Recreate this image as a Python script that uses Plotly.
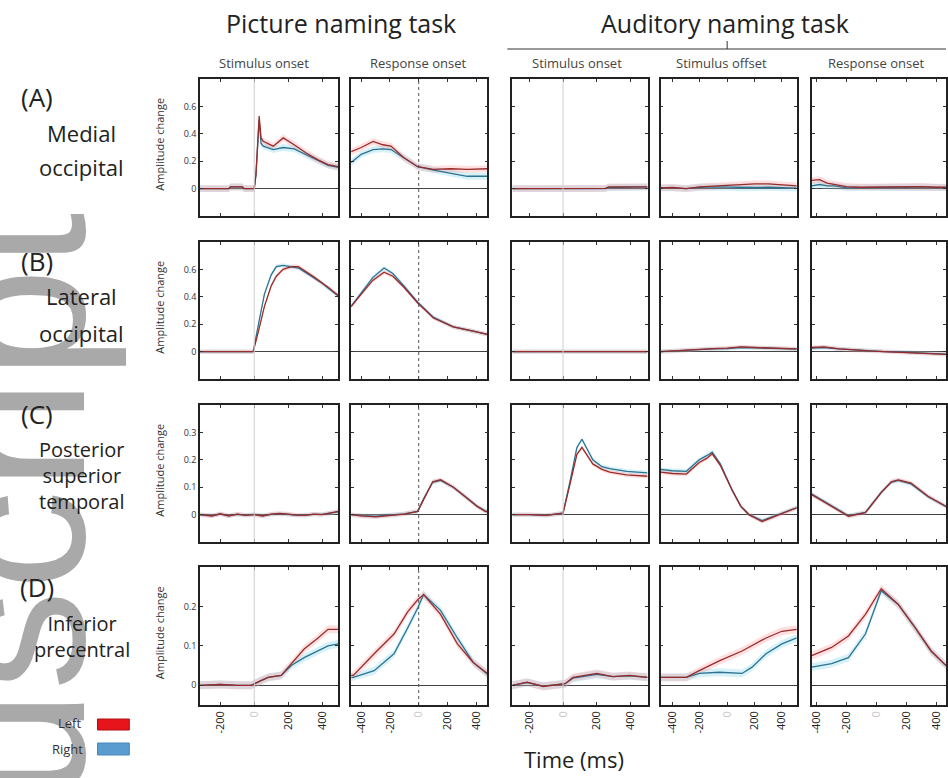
import plotly.graph_objects as go
from plotly.subplots import make_subplots

W, H = 948, 778
FONT = "Open Sans"

# ---------------- data (time in ms, amplitude change) ----------------
# Row A: Medial occipital
t_A1 = [-320, -150, -140, -70, -60, 0, 10, 20, 29, 40, 53, 112, 171, 235, 306, 376, 435, 495]
left_A1 = [0, 0, 0.012, 0.012, 0, 0, 0.1, 0.38, 0.53, 0.37, 0.345, 0.31, 0.37, 0.32, 0.26, 0.21, 0.175, 0.16]
right_A1 = [0, 0, 0.012, 0.012, 0, 0, 0.1, 0.36, 0.50, 0.33, 0.31, 0.285, 0.30, 0.29, 0.25, 0.205, 0.17, 0.155]

t_A2 = [-470, -400, -317, -250, -193, -103, -7, 103, 220, 338, 478]
left_A2 = [0.27, 0.30, 0.345, 0.32, 0.31, 0.225, 0.16, 0.14, 0.145, 0.14, 0.145]
right_A2 = [0.19, 0.25, 0.285, 0.29, 0.285, 0.225, 0.16, 0.135, 0.115, 0.09, 0.09]

t_A3 = [-300, -100, 0, 150, 250, 270, 300, 320, 400, 500]
left_A3 = [0, 0, 0, 0, 0.002, 0.012, 0.012, 0.015, 0.015, 0.013]
right_A3 = [0, 0, 0, 0, 0, 0.008, 0.008, 0.01, 0.012, 0.012]

t_A4 = [-487, -400, -300, -200, -100, 0, 100, 200, 300, 400, 509]
left_A4 = [0.005, 0.008, 0.0, 0.012, 0.018, 0.025, 0.03, 0.035, 0.035, 0.03, 0.02]
right_A4 = [0.005, 0.006, 0.0, 0.01, 0.012, 0.01, 0.005, 0.008, 0.01, 0.008, 0.003]

t_A5 = [-433, -380, -330, -280, -200, -100, 0, 100, 200, 300, 400, 467]
left_A5 = [0.06, 0.065, 0.04, 0.03, 0.015, 0.01, 0.012, 0.015, 0.012, 0.015, 0.01, 0.01]
right_A5 = [0.02, 0.03, 0.02, 0.02, 0.005, 0.008, 0.01, 0.01, 0.01, 0.012, 0.008, 0.008]

# Row B: Lateral occipital
t_B1 = [-320, -100, -6, 25, 60, 100, 130, 170, 220, 260, 300, 353, 400, 435, 495]
left_B1 = [0, 0, 0, 0.15, 0.33, 0.48, 0.55, 0.6, 0.62, 0.62, 0.59, 0.545, 0.5, 0.47, 0.41]
right_B1 = [0, 0, 0, 0.2, 0.42, 0.56, 0.62, 0.63, 0.62, 0.61, 0.58, 0.54, 0.5, 0.465, 0.405]

t_B2 = [-470, -400, -320, -241, -180, -103, -7, 103, 241, 379, 478]
left_B2 = [0.33, 0.42, 0.52, 0.58, 0.55, 0.47, 0.355, 0.245, 0.18, 0.15, 0.125]
right_B2 = [0.33, 0.43, 0.54, 0.61, 0.57, 0.48, 0.36, 0.25, 0.18, 0.15, 0.125]

t_B3 = [-300, -150, 0, 250, 500]
left_B3 = [0, 0.001, 0.0, 0.002, 0.0]
right_B3 = [0, 0.0, 0.0, 0.001, 0.0]

t_B4 = [-487, -300, -200, -100, 0, 100, 200, 300, 400, 509]
left_B4 = [0.0, 0.01, 0.02, 0.022, 0.025, 0.035, 0.03, 0.028, 0.025, 0.02]
right_B4 = [0.0, 0.01, 0.018, 0.02, 0.022, 0.03, 0.028, 0.025, 0.02, 0.018]

t_B5 = [-433, -350, -250, -150, -50, 50, 150, 250, 350, 467]
left_B5 = [0.03, 0.035, 0.02, 0.01, 0.005, 0.0, -0.005, -0.01, -0.015, -0.02]
right_B5 = [0.025, 0.03, 0.02, 0.012, 0.005, 0.0, -0.003, -0.008, -0.012, -0.018]

# Row C: Posterior superior temporal
t_C1 = [-320, -250, -200, -150, -100, -50, 0, 50, 100, 150, 200, 250, 300, 350, 400, 450, 495]
left_C1 = [0.0, -0.005, 0.003, -0.005, 0.002, -0.003, 0.0, -0.005, 0.002, 0.004, 0.002, -0.002, -0.003, 0.002, 0.0, 0.006, 0.012]
right_C1 = [0.0, -0.004, 0.002, -0.004, 0.001, -0.002, 0.001, -0.004, 0.001, 0.003, 0.001, -0.003, -0.002, 0.001, 0.001, 0.005, 0.01]

t_C2 = [-470, -400, -300, -200, -100, -7, 34, 97, 152, 241, 338, 407, 462, 478]
left_C2 = [0.0, -0.005, -0.008, -0.003, 0.002, 0.012, 0.055, 0.12, 0.127, 0.10, 0.06, 0.03, 0.012, 0.01]
right_C2 = [0.0, -0.004, -0.006, -0.002, 0.003, 0.012, 0.058, 0.118, 0.125, 0.10, 0.058, 0.03, 0.014, 0.012]

t_C3 = [-300, -200, -100, 0, 41, 82, 112, 140, 176, 230, 276, 376, 500]
left_C3 = [0, 0, -0.003, 0.005, 0.11, 0.22, 0.245, 0.22, 0.185, 0.165, 0.155, 0.145, 0.14]
right_C3 = [0, 0, -0.003, 0.005, 0.12, 0.245, 0.275, 0.24, 0.2, 0.175, 0.168, 0.158, 0.152]

t_C4 = [-487, -400, -298, -204, -150, -109, -50, 36, 100, 160, 255, 378, 509]
left_C4 = [0.155, 0.15, 0.148, 0.19, 0.205, 0.222, 0.18, 0.09, 0.03, 0.0, -0.025, 0.0, 0.025]
right_C4 = [0.165, 0.16, 0.158, 0.2, 0.215, 0.228, 0.185, 0.09, 0.03, 0.0, -0.022, 0.002, 0.025]

t_C5 = [-433, -300, -187, -73, 33, 100, 147, 233, 347, 467]
left_C5 = [0.073, 0.03, -0.006, 0.007, 0.08, 0.12, 0.127, 0.115, 0.067, 0.03]
right_C5 = [0.075, 0.032, -0.004, 0.008, 0.082, 0.118, 0.125, 0.112, 0.065, 0.03]

# Row D: Inferior precentral
t_D1 = [-320, -200, -100, -18, 40, 82, 159, 218, 294, 376, 435, 495]
left_D1 = [0.0, 0.002, 0.0, 0.0, 0.012, 0.02, 0.025, 0.055, 0.092, 0.12, 0.142, 0.142]
right_D1 = [0.0, 0.002, 0.0, 0.0, 0.012, 0.02, 0.025, 0.05, 0.07, 0.087, 0.1, 0.105]

t_D2 = [-470, -455, -310, -172, -76, -7, 34, 152, 269, 379, 478]
left_D2 = [0.025, 0.025, 0.08, 0.13, 0.187, 0.217, 0.23, 0.18, 0.105, 0.058, 0.03]
right_D2 = [0.02, 0.02, 0.037, 0.08, 0.146, 0.196, 0.23, 0.19, 0.12, 0.058, 0.028]

t_D3 = [-300, -212, -118, 12, 59, 200, 294, 394, 500]
left_D3 = [0.0, 0.008, -0.003, 0.004, 0.02, 0.03, 0.022, 0.025, 0.02]
right_D3 = [0.0, 0.007, -0.002, 0.004, 0.018, 0.028, 0.022, 0.024, 0.02]

t_D4 = [-487, -298, -204, -58, 109, 182, 284, 400, 509]
left_D4 = [0.02, 0.02, 0.037, 0.062, 0.087, 0.1, 0.12, 0.137, 0.142]
right_D4 = [0.02, 0.02, 0.03, 0.033, 0.03, 0.046, 0.08, 0.105, 0.12]

t_D5 = [-433, -300, -187, -73, 33, 147, 260, 367, 467]
left_D5 = [0.075, 0.096, 0.125, 0.18, 0.245, 0.205, 0.146, 0.087, 0.05]
right_D5 = [0.046, 0.055, 0.07, 0.13, 0.24, 0.205, 0.146, 0.087, 0.05]

# standard error band half-width per row
sem_rows = [0.025, 0.015, 0.008, 0.01]

row_names = ["A", "B", "C", "D"]
row_labels = ["(A)", "(B)", "(C)", "(D)"]
region_lines = [["Medial", "occipital"], ["Lateral", "occipital"],
                ["Posterior<br>superior<br>temporal"], ["Inferior<br>precentral"]]
task_titles = ["Picture naming task", "Auditory naming task"]
event_titles = ["Stimulus onset", "Response onset", "Stimulus onset", "Stimulus offset", "Response onset"]

y_ranges = [[-0.2, 0.8], [-0.2, 0.8], [-0.1, 0.4], [-0.05, 0.3]]
y_ticks = [[0, 0.2, 0.4, 0.6], [0, 0.2, 0.4, 0.6], [0, 0.1, 0.2, 0.3], [0, 0.1, 0.2]]
x_ranges = [[-320, 495], [-470, 478], [-300, 500], [-487, 509], [-433, 467]]
x_ticks = [[-200, 0, 200, 400], [-400, -200, 0, 200, 400], [-200, 0, 200, 400],
           [-400, -200, 0, 200, 400], [-400, -200, 0, 200, 400]]

# ---------------- layout geometry (pixels) ----------------
col_px = [(198, 337), (350, 487), (512, 648), (661, 798), (813, 948)]
row_px = [(79, 216), (242, 379), (405, 542), (567, 705)]
event_x = [262, 417, 577, 722, 878]
row_letter_y = [97, 261, 414, 587]
region_line_y = [[133, 167], [296, 333], [475], [636]]
region_size = [22, 22, 20, 20]


def fx(px):
    return px / W


def fy(py):
    return 1 - py / H


fig = make_subplots(rows=4, cols=5)

LEFT_LINE = "#9a2b2b"
RIGHT_LINE = "#2b7390"
LEFT_FILL = "rgba(255,110,110,0.22)"
RIGHT_FILL = "rgba(110,205,235,0.28)"

g = globals()
for r in range(4):
    for c in range(5):
        key = f"{row_names[r]}{c + 1}"
        t = g["t_" + key]
        lv = g["left_" + key]
        rv = g["right_" + key]
        s = sem_rows[r]
        for vals, fill in ((rv, RIGHT_FILL), (lv, LEFT_FILL)):
            fig.add_trace(go.Scatter(x=t + t[::-1],
                                     y=[v + s for v in vals] + [v - s for v in vals[::-1]],
                                     mode="lines", fill="toself", fillcolor=fill, line=dict(width=0),
                                     hoverinfo="skip", showlegend=False), row=r + 1, col=c + 1)
        for vals, line in ((rv, RIGHT_LINE), (lv, LEFT_LINE)):
            fig.add_trace(go.Scatter(x=t, y=vals, mode="lines",
                                     line=dict(color=line, width=1.3),
                                     showlegend=False), row=r + 1, col=c + 1)

        idx = r * 5 + c + 1
        xa = "xaxis" if idx == 1 else f"xaxis{idx}"
        ya = "yaxis" if idx == 1 else f"yaxis{idx}"
        x0, x1 = col_px[c]
        y0, y1 = row_px[r]
        tt = [("<span style='color:#c8c8c8'>0</span>" if v == 0 else str(v)) for v in x_ticks[c]]
        fig.layout[xa].update(domain=[fx(x0), fx(x1)], range=x_ranges[c],
                              showgrid=False, zeroline=False,
                              showline=True, linecolor="#222", linewidth=1.6, mirror="ticks",
                              ticks="inside", ticklen=3, tickcolor="#333",
                              tickvals=x_ticks[c], ticktext=tt,
                              showticklabels=(r == 3), tickangle=-90,
                              tickfont=dict(family=FONT, size=11, color="#222"))
        fig.layout[ya].update(domain=[fy(y1), fy(y0)], range=y_ranges[r],
                              showgrid=False, zeroline=True, zerolinecolor="#444", zerolinewidth=1,
                              showline=True, linecolor="#222", linewidth=1.6, mirror="ticks",
                              ticks="inside", ticklen=3, tickcolor="#333",
                              tickvals=y_ticks[r], showticklabels=(c == 0),
                              tickfont=dict(family=FONT, size=9, color="#333"))
        # event marker at time zero
        if c in (0, 2):
            fig.add_shape(type="line", xref=xa.replace("axis", ""), yref=ya.replace("axis", "") + " domain",
                          x0=0, x1=0, y0=0, y1=1, line=dict(color="#cfcfcf", width=1))
        elif c == 1:
            fig.add_shape(type="line", xref=xa.replace("axis", ""), yref=ya.replace("axis", "") + " domain",
                          x0=0, x1=0, y0=0, y1=1, line=dict(color="#555", width=1, dash="dot"))


def note(text, px, py, size, color="#222", xanchor="center", yanchor="middle", **kw):
    d = dict(text=text, x=fx(px), y=fy(py), xref="paper", yref="paper",
             xanchor=xanchor, yanchor=yanchor, showarrow=False,
             font=dict(family=kw.pop("family", FONT), size=size, color=color))
    d.update(kw)
    return d


ann = []
# watermark (drawn first, beneath labels)
ann.append(note("Author Manuscript", 126, 210, 200, color="#a9a9a9", xanchor="right", yanchor="top",
                textangle=-90, family="Liberation Sans"))

ann.append(note(task_titles[0], 340, 23, 25))
ann.append(note(task_titles[1], 726, 23, 25))
for c in range(5):
    ann.append(note(event_titles[c], event_x[c], 63, 13, color="#444"))
for r in range(4):
    ann.append(note(row_labels[r], 34, row_letter_y[r], 26))
    for line, ly in zip(region_lines[r], region_line_y[r]):
        ann.append(note(line, 79, ly, region_size[r], align="center"))
    y0, y1 = row_px[r]
    ann.append(note("Amplitude change", 157, (y0 + y1) / 2 - 3, 11, color="#333", textangle=-90))

ann.append(note("Time (ms)", 574, 759, 22))
ann.append(note("Left", 80, 723, 13, color="#333", xanchor="right"))
ann.append(note("Right", 82, 749, 13, color="#333", xanchor="right"))

shapes = list(fig.layout.shapes)
shapes.append(dict(type="rect", xref="paper", yref="paper", x0=fx(95), x1=fx(127), y0=fy(730), y1=fy(719),
                   fillcolor="#e8141c", line=dict(color="#b01010", width=1)))
shapes.append(dict(type="rect", xref="paper", yref="paper", x0=fx(95), x1=fx(127), y0=fy(755), y1=fy(743),
                   fillcolor="#5a9bd0", line=dict(color="#4a88bb", width=1)))
# bracket under auditory title
shapes.append(dict(type="line", xref="paper", yref="paper", x0=fx(507), x1=fx(948), y0=fy(49), y1=fy(49),
                   line=dict(color="#333", width=1.2)))
shapes.append(dict(type="line", xref="paper", yref="paper", x0=fx(728), x1=fx(728), y0=fy(49), y1=fy(41),
                   line=dict(color="#333", width=1)))

fig.update_layout(width=W, height=H, margin=dict(l=0, r=0, t=0, b=0),
                  paper_bgcolor="white", plot_bgcolor="white",
                  showlegend=False, annotations=ann, shapes=shapes,
                  font=dict(family=FONT))

fig.write_html("out.html", config={"displayModeBar": False},
               post_script="document.body.style.margin='0';document.body.style.overflow='hidden';")
